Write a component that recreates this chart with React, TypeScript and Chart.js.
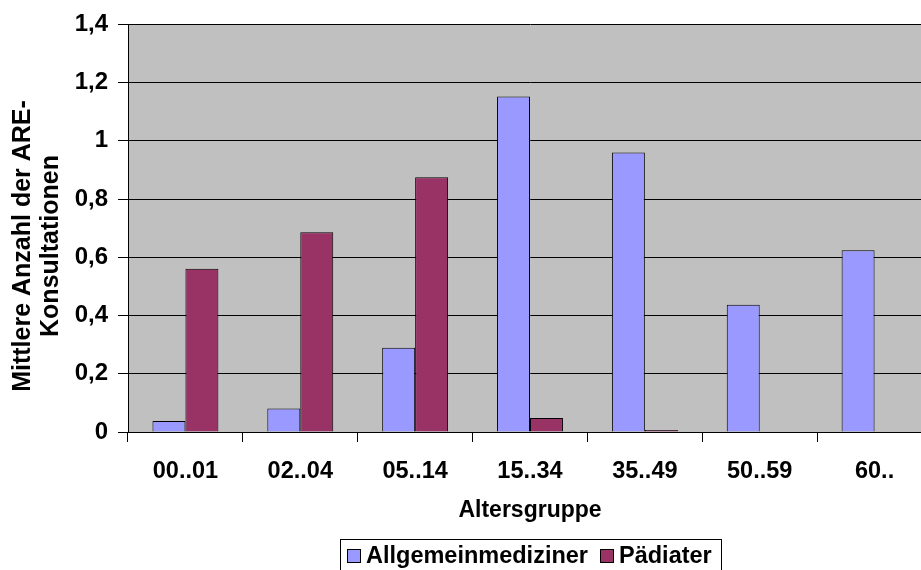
import React, { useEffect, useRef } from 'react';
import { Chart, registerables } from 'chart.js';

Chart.register(...registerables);

const categories = ['00..01', '02..04', '05..14', '15..34', '35..49', '50..59', '60..'];
const allgemeinmediziner = [0.038, 0.081, 0.289, 1.152, 0.96, 0.437, 0.624];
const paediater = [0.561, 0.686, 0.875, 0.048, 0.007, 0.002, 0.002];
const seriesNames = ['Allgemeinmediziner', 'Pädiater'];
const seriesColors = ['#9999FF', '#993366'];
const yTickLabels = ['0', '0,2', '0,4', '0,6', '0,8', '1', '1,2', '1,4'];
const yTitleLines = ['Mittlere Anzahl der ARE-', 'Konsultationen'];
const xTitle = 'Altersgruppe';

const FAMILY = '"Liberation Sans", Arial, Helvetica, sans-serif';

const decorPlugin = {
  id: 'decor',
  beforeDraw(chart: any) {
    const { ctx, chartArea: a } = chart;
    ctx.save();
    ctx.fillStyle = '#C0C0C0';
    ctx.fillRect(a.left, a.top, a.right - a.left, a.bottom - a.top);
    ctx.restore();
  },
  afterDraw(chart: any) {
    const { ctx, chartArea: a } = chart;
    ctx.save();
    ctx.font = `bold 25px ${FAMILY}`;
    ctx.fillStyle = '#000';
    ctx.textAlign = 'center';
    ctx.textBaseline = 'middle';
    const xs = [23, 51];
    const cy = 246;
    yTitleLines.forEach((t, i) => {
      ctx.save();
      ctx.translate(xs[i], cy);
      ctx.rotate(-Math.PI / 2);
      ctx.fillText(t, 0, 0);
      ctx.restore();
    });

    // legend with border
    ctx.font = `bold 23.5px ${FAMILY}`;
    ctx.textBaseline = 'middle';
    const sq = 14;
    const gapSq = 5;
    const gapItem = 12;
    const padL = 7;
    const padR = 9;
    const widths = seriesNames.map((n) => ctx.measureText(n).width);
    const total = padL + sq + gapSq + widths[0] + gapItem + sq + gapSq + widths[1] + padR;
    const cx = (a.left + a.right) / 2;
    const left = Math.round(cx - total / 2);
    const top = 539;
    const h = 34;
    const midY = 556;
    ctx.lineWidth = 1;
    ctx.strokeStyle = '#000';
    ctx.strokeRect(left + 0.5, top + 0.5, Math.round(total), h);
    let x = left + padL;
    seriesNames.forEach((n, i) => {
      ctx.fillStyle = seriesColors[i];
      ctx.fillRect(x, midY - 7, sq, sq);
      ctx.strokeRect(x + 0.5, midY - 7 + 0.5, sq - 1, sq - 1);
      x += sq + gapSq;
      ctx.fillStyle = '#000';
      ctx.textAlign = 'left';
      ctx.fillText(n, x, midY + 1);
      x += widths[i] + gapItem;
    });
    ctx.restore();
  },
};

export default function App() {
  const canvasRef = useRef<HTMLCanvasElement | null>(null);

  useEffect(() => {
    if (!canvasRef.current) return;
    const tickFont = { family: FAMILY, size: 23.5, weight: 'bold' as const };
    const yTickFont = { family: FAMILY, size: 24, weight: 'bold' as const };
    const titleFont = { family: FAMILY, size: 23, weight: 'bold' as const };
    const chart = new Chart(canvasRef.current, {
      type: 'bar',
      data: {
        labels: categories,
        datasets: [
          {
            label: seriesNames[0],
            data: allgemeinmediziner,
            backgroundColor: seriesColors[0],
            borderColor: '#000',
            borderWidth: 1,
            categoryPercentage: 0.574,
            barPercentage: 1.0,
          },
          {
            label: seriesNames[1],
            data: paediater,
            backgroundColor: seriesColors[1],
            borderColor: '#000',
            borderWidth: 1,
            categoryPercentage: 0.574,
            barPercentage: 1.0,
          },
        ],
      },
      options: {
        animation: false,
        responsive: true,
        maintainAspectRatio: false,
        layout: { padding: { left: 8, right: 8, top: 22, bottom: 40 } },
        plugins: {
          legend: { display: false },
          tooltip: { enabled: false },
        },
        scales: {
          x: {
            grid: { drawOnChartArea: false, drawTicks: true, tickLength: 10, color: '#000', offset: true },
            border: { display: true, color: '#000', width: 1 },
            ticks: { color: '#000', font: tickFont, padding: 15, maxRotation: 0, autoSkip: false },
            title: { display: true, text: xTitle, color: '#000', font: titleFont, padding: { top: 0, bottom: 6 } },
            afterFit: (s: any) => {
              s.height = 98;
            },
          },
          y: {
            min: 0,
            max: 1.4,
            ticks: {
              stepSize: 0.2,
              color: '#000',
              font: yTickFont,
              padding: 10,
              callback: (v: any, i: number) => yTickLabels[i] ?? String(v),
            },
            grid: { color: '#000', tickLength: 10, drawTicks: true },
            border: { display: true, color: '#000', width: 1 },
            afterFit: (s: any) => {
              s.width = 120;
            },
          },
        },
      },
      plugins: [decorPlugin],
    });
    return () => chart.destroy();
  }, []);

  return (
    <div
      style={{
        position: 'fixed',
        left: 0,
        top: 0,
        width: 921,
        height: 570,
        overflow: 'hidden',
        background: '#fff',
      }}
    >
      <div style={{ position: 'relative', width: 940, height: 570 }}>
        <canvas ref={canvasRef} />
      </div>
    </div>
  );
}
